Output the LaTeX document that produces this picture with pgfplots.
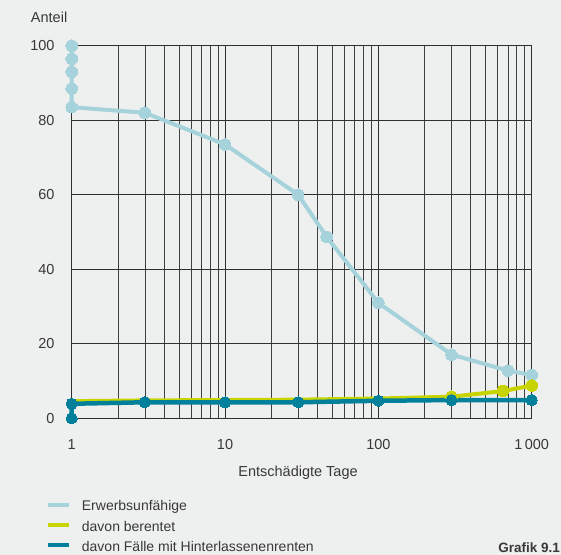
\documentclass[border=0pt]{standalone}
\usepackage{pgfplots}
\pgfplotsset{compat=1.18}
\usepackage{fontspec}
\setmainfont{Liberation Sans}
\definecolor{bgc}{HTML}{EEF0EF}
\definecolor{lblue}{HTML}{A6D3DB}
\definecolor{ygreen}{HTML}{C8D400}
\definecolor{teal2}{HTML}{00809A}
\definecolor{txt}{HTML}{383838}
\definecolor{gridc}{HTML}{303030}
\definecolor{gridm}{HTML}{404040}
\begin{document}
\begin{tikzpicture}
\fill[bgc] (0,0) rectangle (561bp,555bp);
\begin{axis}[
  at={(71.7bp,136.7bp)}, anchor=south west,
  scale only axis, width=460bp, height=372.6bp,
  xmode=log, log basis x=10,
  xmin=1, xmax=1000, ymin=0, ymax=100,
  xtick={1,10,100,1000}, xticklabels={1,10,100,1\,000},
  ytick={0,20,40,60,80,100},
  minor xtick={2,3,4,5,6,7,8,9,20,30,40,50,60,70,80,90,200,300,400,500,600,700,800,900},
  grid=both,
  major grid style={gridc, line width=0.7bp},
  minor grid style={gridm, line width=0.7bp},
  axis line style={gridc, line width=0.7bp},
  tick style={draw=none},
  font=\fontsize{14.5bp}{17bp}\selectfont,
  tick label style={txt, /pgf/number format/assume math mode=true},
  xticklabel style={anchor=north, inner sep=0pt, yshift=-21bp},
  yticklabel style={anchor=east, inner sep=0pt, xshift=-17bp},
  xlabel={Entschädigte Tage},
  xlabel style={txt, at={(axis description cs:0.492,-0.155)}, anchor=base, inner sep=0pt},
  ylabel={Anteil},
  ylabel style={txt, rotate=-90, at={(axis description cs:-0.089,1.061)}, anchor=base west, inner sep=0pt},
  clip=false,
]
\addplot[lblue, line width=4bp, mark=*, mark size=5.8bp, mark options={fill=lblue, draw=lblue, line width=0pt}]
  coordinates {(1,100) (1,96.5) (1,93) (1,88.5) (1,83.5) (3,82) (10,73.5) (30,60) (46,48.7) (100,31) (300,17.1) (700,12.8) (1000,11.6)};
\addplot[ygreen, line width=4bp, mark=none]
  coordinates {(1,4.6) (3,4.8) (10,4.9) (30,5.0) (100,5.3) (300,5.8) (650,7.3) (1000,8.8)};
\addplot[ygreen, only marks, mark=*, mark size=5.8bp, mark options={fill=ygreen, draw=ygreen, line width=0pt}]
  coordinates {(300,5.8) (650,7.3) (1000,8.8)};
\addplot[teal2, line width=4.5bp, mark=*, mark size=5.6bp, mark options={fill=teal2, draw=teal2, line width=0pt}]
  coordinates {(1,0) (1,3.9) (3,4.3) (10,4.3) (30,4.3) (100,4.7) (300,4.9) (1000,4.9)};
\end{axis}
% legend
\draw[lblue, line width=3.5bp] (48.3bp,50bp) -- (69bp,50bp);
\draw[ygreen, line width=3.5bp] (48.3bp,30bp) -- (69bp,30bp);
\draw[teal2, line width=3.5bp] (48.3bp,10bp) -- (69bp,10bp);
\begin{scope}[every node/.style={txt, anchor=base west, inner sep=0pt, font=\fontsize{14bp}{16bp}\selectfont}]
\node at (81.7bp,44bp) {Erwerbsunfähige};
\node at (81.7bp,24bp) {davon berentet};
\node at (81.7bp,4bp) {davon Fälle mit Hinterlassenenrenten};
\end{scope}
\node[txt, anchor=base east, inner sep=0pt, font=\fontsize{13.5bp}{16bp}\selectfont\bfseries] at (560bp,2.5bp) {Grafik 9.1};
\pgfresetboundingbox
\useasboundingbox (0,0) rectangle (561bp,555bp);
\end{tikzpicture}
\end{document}
